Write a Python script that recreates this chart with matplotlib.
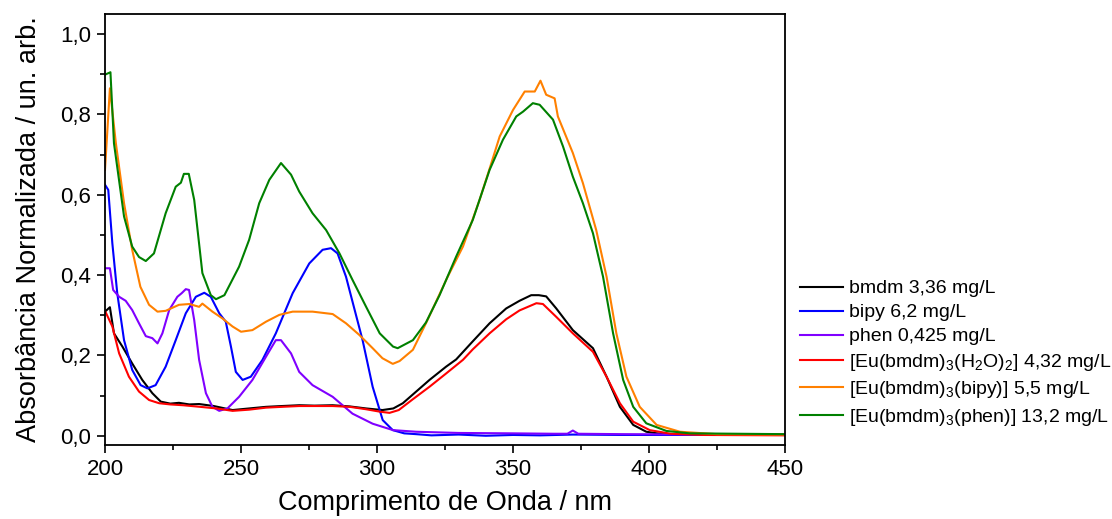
import matplotlib
matplotlib.use('Agg')
import matplotlib.pyplot as plt
from matplotlib.ticker import MultipleLocator, FuncFormatter

# Espectros de absorção UV-Vis
bmdm_nm = [200, 201.8, 203.3, 206.4, 210, 213.7, 217.4, 220.5, 224, 227.2, 231, 234.6, 240, 246.9, 253,
           259.2, 265, 271.4, 277, 283.7, 290, 296, 302, 306, 309.5, 314.4, 319.3, 325.4, 329.1, 335.2,
           341.4, 347.5, 352.4, 356.7, 359.5, 362.2, 365.9, 372, 379.4, 384.4, 389.3, 394.2, 399, 405,
           420, 450]
bmdm_abs = [0.309, 0.320, 0.255, 0.222, 0.180, 0.139, 0.106, 0.085, 0.080, 0.082, 0.078, 0.079, 0.074,
            0.064, 0.068, 0.072, 0.074, 0.076, 0.075, 0.076, 0.073, 0.068, 0.064, 0.068, 0.081, 0.110,
            0.139, 0.172, 0.190, 0.235, 0.280, 0.317, 0.336, 0.350, 0.350, 0.347, 0.317, 0.263,
            0.218, 0.147, 0.072, 0.027, 0.010, 0.004, 0.002, 0.002]

bipy_nm = [200, 201.2, 202.7, 204.5, 207, 210, 213.1, 215.6, 218.6, 222.3, 226, 229.7, 233.4, 236.5,
           238.9, 242, 244.4, 246.3, 248.1, 250.6, 253.6, 257.9, 262.8, 269, 275.1, 280, 283.1, 285.5,
           288.6, 292.3, 294.7, 298.4, 302.1, 305.8, 310, 314.4, 320, 330, 340, 350, 360, 372, 390, 420,
           450]
bipy_abs = [0.625, 0.612, 0.479, 0.355, 0.238, 0.164, 0.126, 0.118, 0.126, 0.172, 0.238, 0.305, 0.346,
            0.356, 0.346, 0.305, 0.284, 0.222, 0.159, 0.139, 0.147, 0.189, 0.255, 0.355, 0.429, 0.463,
            0.467, 0.454, 0.396, 0.300, 0.238, 0.122, 0.039, 0.014, 0.006, 0.004, 0.001, 0.003, 0.000,
            0.002, 0.001, 0.003, 0.002, 0.002, 0.002]

phen_nm = [200, 201.8, 203, 205.2, 207.6, 210, 212.5, 215, 217.4, 219.3, 221.1, 223.6, 226.6, 228.2,
           229.7, 230.9, 232.8, 234.6, 237.1, 239.5, 242, 245, 249.3, 254.2, 259.2, 262.8, 264.7, 268.4,
           271.4, 276.3, 283.7, 291, 298.4, 305.9, 314.4, 330, 350, 365, 370, 372, 374, 390, 420, 450]
phen_abs = [0.417, 0.417, 0.363, 0.346, 0.336, 0.313, 0.280, 0.248, 0.243, 0.230, 0.255, 0.313, 0.346,
            0.355, 0.365, 0.363, 0.288, 0.189, 0.106, 0.072, 0.062, 0.068, 0.097, 0.139, 0.197, 0.238,
            0.238, 0.205, 0.159, 0.126, 0.097, 0.055, 0.030, 0.014, 0.010, 0.007, 0.006, 0.005, 0.005,
            0.013, 0.005, 0.004, 0.003, 0.003]

eu_h2o_nm = [200, 202.7, 205.2, 208.8, 212.5, 216.2, 219.9, 224, 228.7, 235, 241, 246.9, 253, 259.2,
             265, 271.4, 277, 283.7, 290, 296, 301, 304.6, 308, 313, 319.3, 325.4, 331.6, 335.2, 341.4,
             347.5, 352.4, 358.6, 361, 365.9, 372, 379.4, 384.4, 389.3, 394.2, 400.3, 408, 420, 450]
eu_h2o_abs = [0.311, 0.272, 0.205, 0.147, 0.110, 0.089, 0.081, 0.078, 0.076, 0.072, 0.068, 0.062, 0.065,
              0.070, 0.072, 0.074, 0.074, 0.074, 0.072, 0.066, 0.060, 0.057, 0.064, 0.090, 0.122, 0.155,
              0.189, 0.215, 0.255, 0.290, 0.312, 0.330, 0.328, 0.296, 0.255, 0.209, 0.147, 0.081, 0.035,
              0.014, 0.005, 0.002, 0.001]

eu_bipy_nm = [200, 201.8, 204, 207, 210, 213, 216.2, 219.3, 222.3, 227.2, 231, 234.6, 235.8, 239.5,
              243.2, 246.9, 250, 254.2, 259.2, 264.1, 269, 276.3, 283.7, 288.6, 293.5, 298.4, 302,
              305.8, 308.3, 313.2, 318, 326, 331.6, 337.7, 341.4, 345.1, 350, 354.3, 358, 360.1,
              362.2, 365.3, 366.5, 372, 375.7, 380.6, 384.4, 388, 391.7, 396.6, 402.8, 411.4, 425, 450]
eu_bipy_abs = [0.662, 0.865, 0.728, 0.579, 0.463, 0.371, 0.326, 0.309, 0.311, 0.326, 0.328, 0.321,
               0.329, 0.309, 0.292, 0.272, 0.259, 0.263, 0.284, 0.301, 0.309, 0.309, 0.303, 0.280,
               0.251, 0.218, 0.193, 0.179, 0.186, 0.214, 0.280, 0.396, 0.471, 0.587, 0.665, 0.745,
               0.811, 0.857, 0.857, 0.884, 0.849, 0.840, 0.795, 0.704, 0.629, 0.512, 0.396, 0.255,
               0.147, 0.072, 0.027, 0.010, 0.004, 0.003]

eu_phen_nm = [200, 202, 203.3, 207, 210, 212.5, 215, 218, 222.3, 226, 227.9, 229, 230.8, 232.8, 235.8,
              238.9, 240.8, 243.9, 249.3, 253, 256.7, 260.4, 264.7, 268.4, 271.4, 276.3, 281.3, 286.2,
              291, 296, 301, 305.9, 307.6, 313.2, 318, 323, 329.1, 335.2, 341.4, 346.3, 351.2, 353.7,
              357.3, 359.8, 364.7, 368.4, 372, 375.7, 379.4, 383.1, 386.8, 390.5, 394.2, 399, 406.4,
              415, 450]
eu_phen_abs = [0.899, 0.905, 0.728, 0.546, 0.471, 0.445, 0.435, 0.454, 0.554, 0.620, 0.630, 0.652,
               0.652, 0.587, 0.405, 0.350, 0.340, 0.350, 0.421, 0.488, 0.579, 0.637, 0.679, 0.650,
               0.608, 0.554, 0.512, 0.454, 0.388, 0.321, 0.255, 0.222, 0.218, 0.238, 0.282, 0.350,
               0.446, 0.537, 0.662, 0.737, 0.795, 0.807, 0.828, 0.824, 0.787, 0.720, 0.645, 0.579,
               0.504, 0.396, 0.255, 0.139, 0.072, 0.031, 0.012, 0.006, 0.004]

labels = ['bmdm 3,36 mg/L',
          'bipy 6,2 mg/L',
          'phen 0,425 mg/L',
          r'[Eu(bmdm)$_3$(H$_2$O)$_2$] 4,32 mg/L',
          r'[Eu(bmdm)$_3$(bipy)] 5,5 mg/L',
          r'[Eu(bmdm)$_3$(phen)] 13,2 mg/L']
cores = ['#000000', '#0000ff', '#8000ff', '#ff0000', '#ff8000', '#008000']

plt.rcParams['font.family'] = ['Liberation Sans', 'DejaVu Sans']
plt.rcParams['mathtext.fontset'] = 'custom'
plt.rcParams['mathtext.rm'] = 'Liberation Sans'
plt.rcParams['mathtext.default'] = 'regular'

fig = plt.figure(figsize=(11.12, 5.19), dpi=100)
ax = fig.add_axes([105 / 1112, 74 / 519, 680 / 1112, 431 / 519])

series = [(bmdm_nm, bmdm_abs), (bipy_nm, bipy_abs), (phen_nm, phen_abs),
          (eu_h2o_nm, eu_h2o_abs), (eu_bipy_nm, eu_bipy_abs), (eu_phen_nm, eu_phen_abs)]
for (x, y), lab, cor in zip(series, labels, cores):
    ax.plot(x, y, color=cor, lw=1.5, label=lab)

# Eixos
ax.set_xlim(200, 450)
ax.set_ylim(-0.023, 1.05)
ax.xaxis.set_major_locator(MultipleLocator(50))
ax.xaxis.set_minor_locator(MultipleLocator(25))
ax.yaxis.set_major_locator(MultipleLocator(0.2))
ax.yaxis.set_minor_locator(MultipleLocator(0.1))
ax.yaxis.set_major_formatter(FuncFormatter(lambda v, p: f'{v:.1f}'.replace('.', ',')))
ax.tick_params(which='major', direction='out', length=6, width=1.2, labelsize=16, pad=4)
ax.tick_params(which='minor', direction='out', length=3.5, width=1.2)
for s in ax.spines.values():
    s.set_linewidth(1.3)

ax.set_xlabel('Comprimento de Onda / nm', fontsize=19.5, labelpad=7)
ax.set_ylabel('Absorbância Normalizada / un. arb.', fontsize=19.5, labelpad=13)

# Legenda fora do gráfico, à direita
fig.legend(loc='upper left', bbox_to_anchor=(790 / 1112, 1 - 270 / 519), frameon=False,
           fontsize=14.0, borderpad=0, handlelength=2.2, handletextpad=0.35, labelspacing=0.33)

plt.savefig('out.png', dpi=100)
